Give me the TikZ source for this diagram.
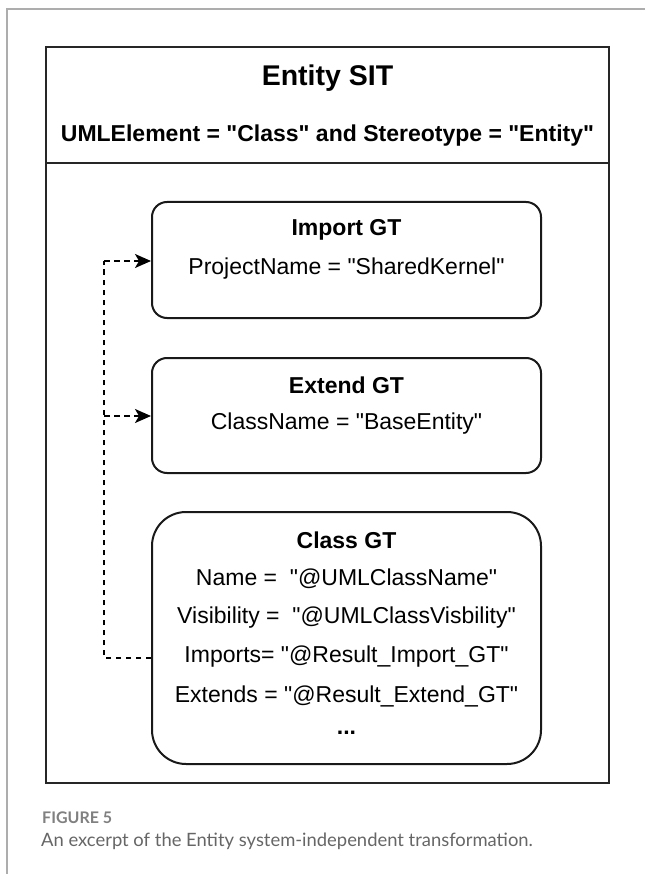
\documentclass[tikz,border=0pt]{standalone}
\usepackage{fontspec}
\setmainfont{Liberation Sans}
% family without the TeX input mapping, so " stays a straight quote
\newfontfamily\diafont{Liberation Sans}
\newfontfamily\capfont{Lato}
\usetikzlibrary{arrows.meta}

\tikzset{
  frameline/.style={draw=black!32, line width=1.6pt},
  outerbox/.style={draw=black!85, line width=2pt},
  gtbox/.style={draw=black!90, line width=2pt, rounded corners=#1},
  gtbox/.default=15pt,
  gttitle/.style={font=\diafont\fontsize{23}{27}\selectfont\bfseries, inner sep=0pt, anchor=center},
  gtline/.style={font=\diafont\fontsize{23}{27}\selectfont, inner sep=0pt, anchor=center},
  link/.style={line width=1.8pt, dash pattern=on 5.5pt off 4.5pt,
    -{Stealth[length=16pt, width=14pt, inset=4pt]}},
  plainlink/.style={line width=1.8pt, dash pattern=on 5.5pt off 4.5pt}
}

\begin{document}
\begin{tikzpicture}[x=1pt, y=-1pt]
  \useasboundingbox (0,0) rectangle (645,874);
  \fill[white] (0,0) rectangle (645,874);

  % page frame
  \draw[frameline] (645,9) -- (7,9) -- (7,874);

  % outer SIT box with header
  \draw[outerbox] (46,47) rectangle (609,783);
  \draw[outerbox] (46,163) -- (609,163);
  \node[font=\diafont\fontsize{28.5}{32}\selectfont\bfseries, inner sep=0pt] (sittitle) at (327.5,78) {Entity SIT};
  \node[font=\diafont\fontsize{23}{27}\selectfont\bfseries, inner sep=0pt] (sitcond) at (327.5,136)
    {UMLElement = "Class" and Stereotype = "Entity"};

  % generation template boxes
  \node[gtbox, minimum width=389pt, minimum height=116pt, inner sep=0pt] (imp) at (346.5,260) {};
  \node[gtbox, minimum width=389pt, minimum height=115pt, inner sep=0pt] (ext) at (346.5,415.5) {};
  \node[gtbox=34pt, minimum width=389pt, minimum height=252pt, inner sep=0pt] (cls) at (346.5,638) {};

  \node[gttitle] (imptitle) at (346.5,230) {Import GT};
  \node[gtline] (impline) at (346.5,269) {ProjectName = "SharedKernel"};

  \node[gttitle] (exttitle) at (346.5,385) {Extend GT};
  \node[gtline] (extline) at (346.5,424) {ClassName = "BaseEntity"};

  \node[gttitle] (clstitle) at (346.5,540) {Class GT};
  \node[gtline] (clsname) at (346.5,579) {Name = ~"@UMLClassName"};
  \node[gtline] (clsvis) at (346.5,618) {Visibility = ~"@UMLClassVisbility"};
  \node[gtline] (clsimp) at (346.5,657) {Imports= "@Result\_Import\_GT"};
  \node[gtline] (clsext) at (346.5,696) {Extends = "@Result\_Extend\_GT"};
  \node[gttitle] (clsmore) at (346.5,733) {...};

  % dependency connectors
  \coordinate (src) at (cls.west |- 0,658);
  \coordinate (bend) at (104,658);
  \coordinate (impin) at (104,261);
  \coordinate (extin) at (104,416);
  \draw[plainlink] (src) -- (bend) -- (impin);
  \draw[link] (impin) -- (imp.west |- impin);
  \draw[link] (extin) -- (ext.west |- extin);

  % caption
  \node[font=\capfont\fontsize{16}{19}\selectfont\bfseries, text=black!50, anchor=west, inner sep=0pt]
    (figlabel) at (42,818) {FIGURE 5};
  \node[font=\capfont\fontsize{18.4}{21}\selectfont, text=black!60, anchor=west, inner sep=0pt]
    (figcap) at (41,841) {An excerpt of the Entity system-independent transformation.};
\end{tikzpicture}
\end{document}
